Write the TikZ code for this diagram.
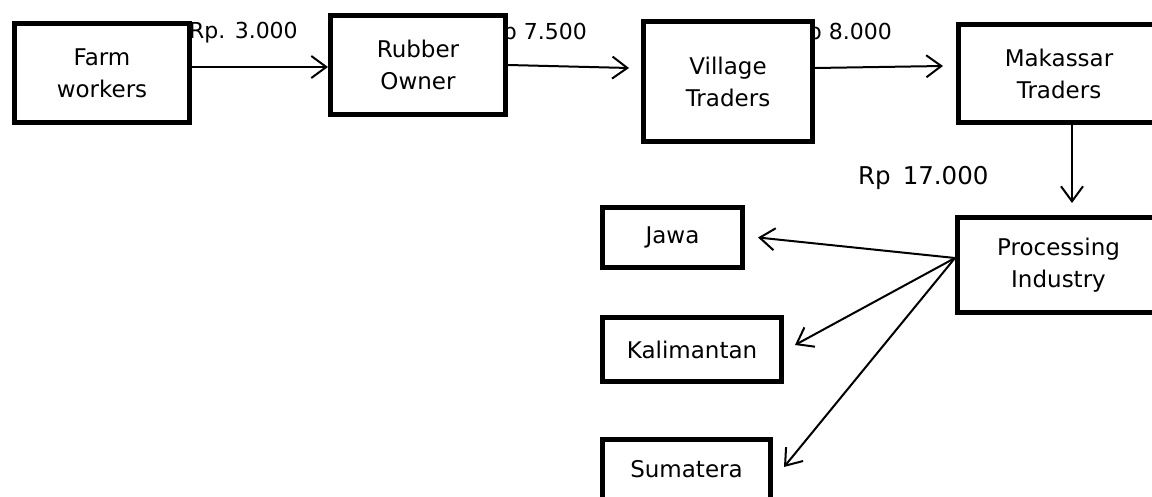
\documentclass[tikz,border=0pt]{standalone}
\usepackage{fontspec}
\setmainfont{DejaVu Sans}
\usetikzlibrary{arrows.meta}
\begin{document}
\begin{tikzpicture}[x=1pt,y=-1pt,
  box/.style={draw=black,line width=5pt,fill=white,rectangle,align=center,
    inner sep=0pt,font=\fontsize{23}{32}\selectfont},
  price/.style={inner sep=0pt,font=\fontsize{22}{26}\selectfont},
  arr/.style={line width=2pt,-{Straight Barb[length=15pt,width=22pt,line width=2pt]}}]
\useasboundingbox (0,0) rectangle (1152,497);
\clip (0,0) rectangle (1152,497);
% price labels (behind the boxes)
\node[price,anchor=base west] (p1) at (189,39) {Rp. 3.000};
\node[price,anchor=base east] (p2) at (587,40) {Rp 7.500};
\node[price,anchor=base east] (p3) at (892,40) {Rp 8.000};
\node[price,anchor=base west,font=\fontsize{24.5}{30}\selectfont] (p4) at (858,185) {Rp\hspace{12pt}17.000};
% boxes
\node[box,minimum width=175pt,minimum height=99pt] (farm) at (102,73) {Farm\\workers};
\node[box,minimum width=175pt,minimum height=99pt] (rubber) at (418,65) {Rubber\\Owner};
\node[box,minimum width=169pt,minimum height=120pt] (village) at (728,81.5) {Village\\Traders};
\node[box,minimum width=201pt,minimum height=98pt] (mak) at (1059,73.5) {Makassar\\Traders};
\node[box,minimum width=202pt,minimum height=95pt] (proc) at (1058.5,265) {Processing\\Industry};
\node[box,minimum width=140pt,minimum height=60pt] (jawa) at (672.5,237.5) {Jawa};
\node[box,minimum width=179pt,minimum height=64pt] (kal) at (692,349.5) {Kalimantan};
\node[box,minimum width=168pt,minimum height=63pt] (sum) at (686.5,471) {\raisebox{4pt}{Sumatera}};
% connectors
\draw[arr] ([yshift=6pt]farm.east) -- ([yshift=-2pt]rubber.west);
\draw[arr] (rubber.east) -- ([xshift=-12pt,yshift=13.5pt]village.west);
\draw[arr] ([yshift=13.5pt]village.east) -- ([xshift=-13pt,yshift=7.5pt]mak.west);
\draw[arr] ([xshift=13pt]mak.south) -- ([xshift=13.5pt,yshift=12pt]proc.north);
\draw[arr] ([yshift=7pt]proc.west) -- ([xshift=13pt]jawa.east);
\draw[arr] ([yshift=7pt]proc.west) -- ([xshift=11pt,yshift=4.5pt]kal.east);
\draw[arr] ([yshift=7pt]proc.west) -- ([xshift=11pt,yshift=4pt]sum.east);
\end{tikzpicture}
\end{document}
